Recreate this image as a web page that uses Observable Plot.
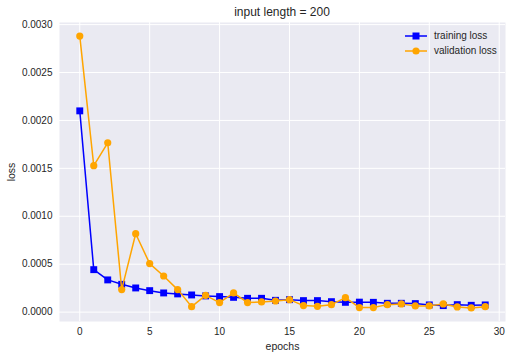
<!DOCTYPE html>
<html><head><meta charset="utf-8">
<script src="https://cdn.jsdelivr.net/npm/d3@7"></script>
<script src="https://cdn.jsdelivr.net/npm/@observablehq/plot@0.6"></script>
<style>
body{margin:0;background:#fff;}
#wrap{position:relative;width:512px;height:359px;font-family:"Liberation Sans",Arial,sans-serif;color:#262626;}
#title{position:absolute;left:59px;width:446px;top:5px;text-align:center;font-size:12px;line-height:14px;}
#legend{position:absolute;left:405px;top:28px;font-size:10px;line-height:15px;}
.row{display:flex;align-items:center;height:15px;}
.row svg{margin-right:7px;}
g[aria-label="x-axis label"] text, g[aria-label="y-axis label"] text{font-size:10.5px;}
</style></head><body>
<div id="wrap"><div id="title">input length = 200</div><div id="legend"></div></div>
<script>
const epochs = [0,1,2,3,4,5,6,7,8,9,10,11,12,13,14,15,16,17,18,19,20,21,22,23,24,25,26,27,28,29];
const trainingLoss = [0.0021, 0.000443, 0.000336, 0.00029, 0.000252, 0.000224, 0.0002, 0.00019, 0.000179, 0.000169,
  0.000162, 0.000154, 0.000144, 0.000144, 0.000123, 0.00013, 0.00012, 0.00012, 0.000109, 0.000102,
  0.000104, 0.000102, 0.000092, 0.000092, 0.000089, 0.000075, 0.000068, 0.000078, 0.000071, 0.000075];
const validationLoss = [0.00288, 0.001528, 0.001767, 0.000235, 0.000818, 0.000506, 0.000377, 0.000235, 0.000057, 0.000175,
  0.000099, 0.0002, 0.000099, 0.000106, 0.000116, 0.00013, 0.000068, 0.00006, 0.000078, 0.000151,
  0.000047, 0.000047, 0.000078, 0.000085, 0.000065, 0.000065, 0.000085, 0.000054, 0.000044, 0.000057];
const xTicks = [0,5,10,15,20,25,30];
const yTicks = [0,0.0005,0.001,0.0015,0.002,0.0025,0.003];
const seriesNames = ["training loss","validation loss"];
const colors = ["#0000FF","#FFA500"];

const train = epochs.map((e,i)=>({epoch:e, loss:trainingLoss[i]}));
const valid = epochs.map((e,i)=>({epoch:e, loss:validationLoss[i]}));

const chart = Plot.plot({
  width: 512, height: 359,
  marginLeft: 59, marginRight: 7, marginTop: 22, marginBottom: 38,
  style: {fontFamily: "Liberation Sans, Arial, sans-serif", fontSize: "10px", color: "#262626", background: "transparent"},
  x: {domain: [-1.45, 30.45]},
  y: {domain: [-0.000098, 0.003022]},
  marks: [
    Plot.frame({fill: "#EAEAF2", stroke: null}),
    Plot.ruleX(xTicks, {stroke: "white", strokeWidth: 1}),
    Plot.ruleY(yTicks, {stroke: "white", strokeWidth: 1}),
    Plot.axisX({ticks: xTicks, tickSize: 0, tickPadding: 6, label: "epochs", labelAnchor: "center", labelArrow: "none", labelOffset: 28}),
    Plot.axisY({ticks: yTicks, tickSize: 0, tickPadding: 7, tickFormat: d3.format(".4f"), label: "loss", labelAnchor: "center", labelArrow: "none", labelOffset: 52}),
    Plot.line(train, {x: "epoch", y: "loss", stroke: colors[0], strokeWidth: 1.5}),
    Plot.dot(train, {x: "epoch", y: "loss", symbol: "square", fill: colors[0], r: 3.9}),
    Plot.line(valid, {x: "epoch", y: "loss", stroke: colors[1], strokeWidth: 1.5}),
    Plot.dot(valid, {x: "epoch", y: "loss", symbol: "circle", fill: colors[1], r: 3.6})
  ]
});
document.getElementById("wrap").prepend(chart);

const legend = d3.select("#legend");
seriesNames.forEach((name,i)=>{
  const row = legend.append("div").attr("class","row");
  const svg = row.append("svg").attr("width",22).attr("height",10);
  svg.append("line").attr("x1",0).attr("x2",22).attr("y1",5).attr("y2",5).attr("stroke",colors[i]).attr("stroke-width",1.5);
  if (i===0) svg.append("rect").attr("x",7.5).attr("y",1.5).attr("width",7).attr("height",7).attr("fill",colors[i]);
  else svg.append("circle").attr("cx",11).attr("cy",5).attr("r",3.6).attr("fill",colors[i]);
  row.append("span").text(name);
});
</script>
</body></html>
